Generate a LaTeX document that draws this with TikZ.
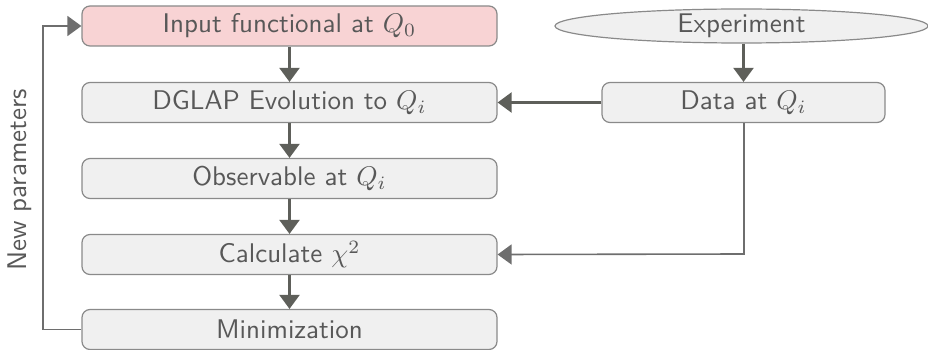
\documentclass[tikz,border=0pt]{standalone}
\usepackage{fontspec}
\usetikzlibrary{arrows.meta,shapes.geometric}
\definecolor{boxfill}{HTML}{F0F0F0}
\definecolor{boxline}{HTML}{8A8A8A}
\definecolor{redfill}{HTML}{F8D3D4}
\definecolor{txtcol}{HTML}{585858}
\definecolor{arrcol}{HTML}{5E5F5A}
\definecolor{linecol}{HTML}{6E6E6E}
% labels are set at 10pt and enlarged, so the regular design size is kept
\newcommand\lbl[1]{\scalebox{2.7}{\fontsize{10}{12}\selectfont\sffamily #1}}
\begin{document}
\begin{tikzpicture}[x=1pt,y=-1pt,
  every node/.style={text=txtcol},
  flowbox/.style={draw=boxline,fill=boxfill,rounded corners=8pt,line width=1.2pt,
    minimum height=40pt,inner sep=0pt},
  mainbox/.style={flowbox,minimum width=415pt},
  startbox/.style={mainbox,fill=redfill},
  flowarrow/.style={draw=arrcol,line width=2.2pt,-{Triangle[width=20pt,length=14pt]}},
  backline/.style={draw=linecol,line width=1.6pt,-{Triangle[width=20pt,length=14pt]}}]
\useasboundingbox (0,0) rectangle (928,350);
\node[startbox] (inp) at (289.5,26) {\lbl{Input functional at $Q_0$}};
\node[mainbox] (dglap) at (289.5,102.5) {\lbl{DGLAP Evolution to $Q_i$}};
\node[mainbox] (obs) at (289.5,178.5) {\lbl{Observable at $Q_i$}};
\node[mainbox] (chi) at (289.5,254.5) {\lbl{Calculate $\chi^2$}};
\node[mainbox] (mini) at (289.5,329.5) {\lbl{Minimization}};
\node[ellipse,draw=boxline,fill=boxfill,line width=1.2pt,minimum width=373pt,
  minimum height=34pt,inner sep=0pt] (exp) at (741.5,26) {\lbl{Experiment}};
\node[flowbox,minimum width=283pt] (data) at (743.5,102.5) {\lbl{Data at $Q_i$}};
\coordinate (turn) at (744,254);
\coordinate (lefttop) at (43,26);
\coordinate (leftbot) at (43,329.5);

\draw[flowarrow] (inp) -- (dglap);
\draw[flowarrow] (dglap) -- (obs);
\draw[flowarrow] (obs) -- (chi);
\draw[flowarrow] (chi) -- (mini);
\draw[flowarrow] (exp.south -| data.north) -- (data);
\draw[flowarrow] (data) -- (dglap);
\draw[backline] (data.south -| turn) -- (turn) -- (chi.east);
\draw[backline] (mini.west) -- (leftbot) -- (lefttop) -- (inp.west);
\node[rotate=90] (np) at (20,180) {\lbl{New parameters}};
\end{tikzpicture}
\end{document}
